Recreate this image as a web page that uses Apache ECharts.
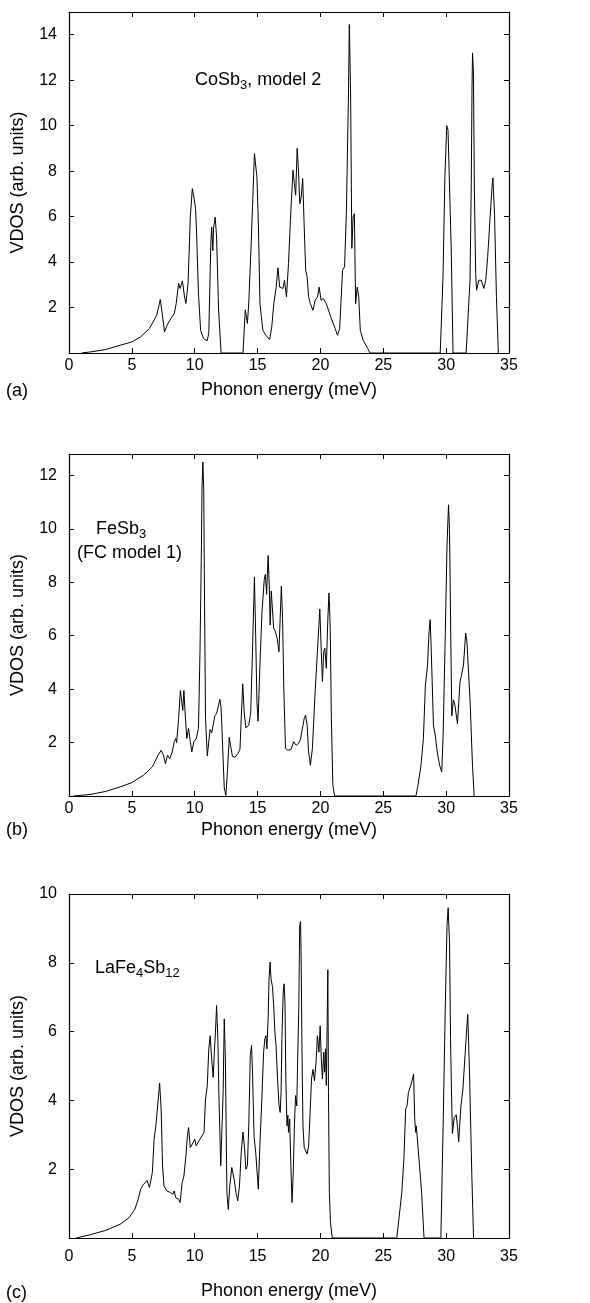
<!DOCTYPE html>
<html>
<head>
<meta charset="utf-8">
<script src="https://cdn.jsdelivr.net/npm/echarts@6/dist/echarts.min.js"></script>
<style>
html,body{margin:0;padding:0;background:#fff;}
#chart{width:590px;height:1303px;}
</style>
</head>
<body>
<div id="chart"></div>
<script>
// ---------------- DATA ----------------
const xTicks = [0, 5, 10, 15, 20, 25, 30, 35];

// Panel (a) CoSb3, model 2
const energyA = [1.0,1.74,2.9,4.07,5.0,5.7,6.4,6.98,7.26,7.4,7.6,7.8,8.02,8.37,8.53,8.72,8.84,9.02,9.19,9.3,9.47,9.65,9.81,9.93,10.07,10.16,10.3,10.47,10.7,10.98,11.12,11.28,11.35,11.44,11.5,11.63,11.74,11.9,12.1,13.84,14.02,14.19,14.3,14.49,14.75,14.95,15.07,15.19,15.42,15.66,15.96,16.13,16.29,16.48,16.62,16.76,16.9,17.02,17.14,17.3,17.46,17.65,17.82,17.93,18.03,18.15,18.24,18.36,18.47,18.59,18.71,18.83,18.94,19.06,19.2,19.41,19.58,19.77,19.9,20.05,20.23,20.47,20.82,21.17,21.36,21.53,21.76,21.92,22.07,22.23,22.3,22.4,22.5,22.6,22.7,22.8,22.93,23.05,23.17,23.4,23.76,23.94,29.53,29.75,29.9,30.05,30.15,30.3,30.4,30.55,31.59,31.9,32.0,32.06,32.1,32.17,32.25,32.35,32.42,32.6,32.8,33.0,33.15,33.3,33.5,33.65,33.72,33.85,34.0,34.15];
const vdosA = [0,0.05,0.15,0.34,0.49,0.71,1.08,1.66,2.35,1.8,0.93,1.22,1.44,1.73,2.18,3.06,2.84,3.17,2.47,2.18,3.06,5.98,7.23,6.86,6.35,5.1,2.6,1.0,0.64,0.53,0.86,4.8,5.54,4.5,5.5,5.98,5.1,1.88,0,0,1.9,1.3,2.2,4.8,8.77,7.74,5.54,2.17,1.0,0.78,0.59,1.15,2.17,2.9,3.75,2.9,2.98,2.84,3.2,2.47,3.93,6.28,8.04,7.45,6.94,9.0,8.2,6.57,6.86,7.67,5.54,3.64,3.35,2.47,2.17,1.88,2.32,2.47,2.9,2.32,2.4,2.17,1.59,1.08,0.78,1.08,3.64,3.79,6.28,11.4,14.45,11.4,4.6,5.98,6.13,2.17,2.9,2.47,1.0,0.56,0.2,0,0,3.35,7.74,10.0,9.8,6.7,4.7,0,0,3.2,7.5,11.8,13.2,12.4,7.0,3.5,2.76,3.2,3.2,2.84,3.2,4.2,6.0,7.3,7.7,6.1,2.5,0];

// Panel (b) FeSb3 (FC model 1)
const energyB = [0.35,1.74,2.9,4.07,5.0,5.93,6.63,7.09,7.33,7.51,7.67,7.84,8.02,8.21,8.37,8.49,8.56,8.72,8.86,8.95,9.05,9.14,9.23,9.37,9.51,9.65,9.77,9.93,10.12,10.3,10.42,10.53,10.58,10.65,10.72,10.77,10.86,11.0,11.22,11.35,11.45,11.6,11.75,11.88,12.0,12.1,12.22,12.35,12.48,12.6,12.75,12.85,13.0,13.2,13.45,13.6,13.7,13.82,13.93,14.07,14.3,14.45,14.6,14.75,14.85,14.95,15.04,15.18,15.34,15.44,15.53,15.62,15.72,15.84,15.93,16.0,16.09,16.19,16.28,16.42,16.56,16.7,16.8,16.89,16.99,17.08,17.22,17.41,17.65,17.88,18.07,18.24,18.4,18.54,18.71,18.82,18.94,19.06,19.2,19.36,19.58,19.76,19.95,20.07,20.16,20.26,20.35,20.47,20.59,20.68,20.78,20.87,20.99,21.13,27.6,27.76,28.0,28.19,28.35,28.52,28.64,28.73,28.82,28.99,29.13,29.29,29.48,29.65,29.76,29.93,30.07,30.19,30.25,30.3,30.38,30.45,30.58,30.7,30.9,31.1,31.38,31.55,31.65,31.9,32.1,32.23];
const vdosB = [0,0.06,0.17,0.34,0.5,0.78,1.09,1.53,1.71,1.53,1.21,1.53,1.4,1.65,2.03,2.15,2.0,2.9,3.95,3.6,3.2,3.95,3.15,2.15,2.53,2.03,1.65,2.03,2.15,2.53,5.4,9.2,11.55,12.5,11.4,7.9,2.9,1.5,2.49,2.36,2.43,3.0,3.1,3.37,3.62,3.3,1.86,0.3,0.02,0.9,2.2,1.9,1.48,1.45,1.6,1.75,2.9,4.2,3.15,2.55,2.65,3.1,5.5,8.2,6.0,3.5,2.8,4.8,6.8,6.8,8.1,8.3,7.55,9.0,7.9,6.4,7.67,7.7,6.28,6.15,5.9,5.4,6.65,7.85,6.65,4.15,1.78,1.71,1.74,2.03,1.9,1.96,2.1,2.03,2.9,3.03,2.65,1.65,1.15,1.78,3.9,5.4,7.0,5.4,4.28,5.4,5.53,4.78,6.65,7.6,6.28,2.9,0.4,0,0,0.4,1.15,2.15,4.15,4.9,6.15,6.6,5.4,2.65,2.28,1.65,1.15,0.9,2.28,6.0,9.4,10.9,10.2,8.8,5.5,3.0,3.6,3.4,2.7,4.25,4.9,6.1,5.8,3.6,1.1,0];

// Panel (c) LaFe4Sb12
const energyC = [0.58,1.74,2.9,4.07,4.77,5.23,5.51,5.7,5.93,6.21,6.4,6.51,6.63,6.77,6.91,7.05,7.21,7.33,7.44,7.56,7.79,8.07,8.26,8.37,8.49,8.72,8.84,9.0,9.14,9.3,9.42,9.51,9.65,9.81,10.0,10.12,10.35,10.58,10.74,10.86,11.0,11.12,11.23,11.35,11.47,11.56,11.65,11.74,11.84,11.93,12.07,12.16,12.26,12.35,12.44,12.56,12.67,12.79,12.95,13.14,13.28,13.42,13.56,13.7,13.84,13.95,14.07,14.19,14.3,14.42,14.52,14.6,14.72,14.85,15.06,15.18,15.34,15.48,15.58,15.67,15.74,15.84,15.91,16.0,16.07,16.14,16.19,16.28,16.38,16.47,16.59,16.71,16.8,16.87,16.94,17.04,17.11,17.18,17.25,17.34,17.41,17.46,17.55,17.65,17.74,17.84,17.93,18.02,18.12,18.19,18.28,18.35,18.42,18.47,18.54,18.61,18.71,18.82,18.94,19.06,19.18,19.29,19.41,19.53,19.65,19.76,19.88,19.98,20.07,20.16,20.26,20.33,20.4,20.47,20.54,20.59,20.64,20.71,20.8,20.94,26.07,26.24,26.47,26.64,26.78,26.89,27.0,27.18,27.32,27.41,27.5,27.58,27.62,27.69,27.88,28.05,28.24,29.58,29.76,29.93,30.07,30.16,30.27,30.35,30.42,30.5,30.64,30.8,30.9,31.0,31.17,31.33,31.5,31.64,31.72,31.86,32.04,32.18];
const vdosC = [0,0.1,0.22,0.4,0.59,0.83,1.13,1.42,1.56,1.67,1.47,1.45,1.9,2.87,3.26,3.84,4.5,3.75,2.1,1.51,1.37,1.32,1.27,1.37,1.17,1.13,1.03,1.61,1.8,2.39,2.97,3.21,2.63,2.73,2.87,2.68,2.83,2.97,3.07,4.04,4.43,5.5,5.88,5.2,4.67,5.4,5.98,6.76,5.79,4.04,2.1,2.05,4.23,6.37,5.2,1.32,0.83,1.51,2.05,1.7,1.32,1.08,1.51,2.48,3.08,2.68,2.0,2.1,3.26,5.3,5.6,4.8,2.95,2.5,1.42,2.68,4.04,5.4,5.79,5.88,5.5,6.37,7.53,8.02,7.53,7.58,7.29,6.76,5.98,5.59,4.62,3.84,3.65,4.23,5.88,7.15,7.39,6.85,4.62,3.26,3.57,3.07,3.46,2.1,1.03,1.9,3.26,4.14,3.84,5.2,6.66,9.09,9.2,8.1,5.2,3.26,2.63,2.58,2.44,2.68,3.65,4.62,4.9,4.57,5.1,5.88,5.4,6.17,5.2,4.62,5.4,4.82,5.5,4.43,6.37,7.8,4.23,1.32,0.45,0,0,0.54,1.32,2.29,3.75,3.84,4.23,4.43,4.62,4.77,3.46,3.07,3.26,2.97,2.1,1.32,0,0,3.26,6.66,9.09,9.6,8.6,5.8,4.3,3.04,3.5,3.58,3.24,2.8,3.82,4.3,5.3,6.1,6.5,4.8,1.87,0];

const yMaxes = [15, 12.8, 10];
const yLabel = 'VDOS (arb. units)';
const xLabel = 'Phonon energy (meV)';
const panelTags = ['(a)', '(b)', '(c)'];

// ---------------- LAYOUT ----------------
const FONT = '"Liberation Sans", Arial, Helvetica, sans-serif';
const grids = [
  {left: 69, top: 12, width: 440, height: 341},
  {left: 69, top: 454, width: 440, height: 342},
  {left: 69, top: 894, width: 440, height: 344}
];
const xNameGap = [28, 25, 44];
const xLabelMargin = [5, 5, 11];
const tagY = [391, 830, 1293];

const series = [[energyA, vdosA], [energyB, vdosB], [energyC, vdosC]];

const lineStyle = {color: '#000', width: 1.2};
const tickStyle = {show: true, inside: true, length: 5, lineStyle: {color: '#000', width: 1}};

const xAxis = [], yAxis = [], seriesOpt = [];
grids.forEach((g, i) => {
  xAxis.push({
    gridIndex: i, type: 'value', min: 0, max: 35, interval: 5, position: 'bottom',
    axisLine: {show: true, onZero: false, lineStyle: lineStyle},
    axisTick: tickStyle, splitLine: {show: false},
    axisLabel: {color: '#000', fontSize: 16, fontFamily: FONT, margin: xLabelMargin[i]},
    name: xLabel, nameLocation: 'middle', nameGap: xNameGap[i],
    nameTextStyle: {color: '#000', fontSize: 18, fontFamily: FONT}
  });
  xAxis.push({
    gridIndex: i, type: 'value', min: 0, max: 35, interval: 5, position: 'top',
    axisLine: {show: true, onZero: false, lineStyle: lineStyle},
    axisTick: tickStyle, splitLine: {show: false}, axisLabel: {show: false}
  });
  yAxis.push({
    gridIndex: i, type: 'value', min: 0, max: yMaxes[i], interval: 2, position: 'left',
    axisLine: {show: true, onZero: false, lineStyle: lineStyle},
    axisTick: tickStyle, splitLine: {show: false},
    axisLabel: {color: '#000', fontSize: 16, fontFamily: FONT, margin: 12,
      formatter: v => (v > 0 && Math.abs(v % 2) < 1e-9) ? String(v) : ''},
    name: yLabel, nameLocation: 'middle', nameGap: 42,
    nameTextStyle: {color: '#000', fontSize: 18, fontFamily: FONT}
  });
  yAxis.push({
    gridIndex: i, type: 'value', min: 0, max: yMaxes[i], interval: 2, position: 'right',
    axisLine: {show: true, onZero: false, lineStyle: lineStyle},
    axisTick: tickStyle, splitLine: {show: false}, axisLabel: {show: false}
  });
  const [xs, ys] = series[i];
  seriesOpt.push({
    type: 'line', xAxisIndex: 2 * i, yAxisIndex: 2 * i,
    data: xs.map((x, k) => [x, ys[k]]),
    showSymbol: false, symbol: 'none', smooth: false,
    lineStyle: {color: '#000', width: 1}, silent: true, animation: false
  });
});

// ---------------- ANNOTATIONS (text with subscripts) ----------------
const cv = document.createElement('canvas').getContext('2d');
function w(txt, size) { cv.font = size + 'px ' + FONT; return cv.measureText(txt).width; }
function subText(x, y, parts, size) {
  const sub = Math.round(size * 0.72);
  const els = [];
  let cx = x;
  parts.forEach(([t, isSub]) => {
    const fs = isSub ? sub : size;
    els.push({type: 'text', x: cx, y: isSub ? y + size * 0.32 : y, silent: true,
      style: {text: t, fontSize: fs, fontFamily: FONT, fill: '#000', textAlign: 'left', textVerticalAlign: 'middle'}});
    cx += w(t, fs);
  });
  return els;
}

const graphic = []
  .concat(subText(195, 80, [['CoSb', 0], ['3', 1], [', model 2', 0]], 18))
  .concat(subText(96, 529, [['FeSb', 0], ['3', 1]], 18))
  .concat(subText(77, 553, [['(FC model 1)', 0]], 18))
  .concat(subText(95, 968, [['LaFe', 0], ['4', 1], ['Sb', 0], ['12', 1]], 18));
panelTags.forEach((t, i) => {
  graphic.push({type: 'text', x: 6, y: tagY[i], silent: true,
    style: {text: t, fontSize: 18, fontFamily: FONT, fill: '#000', textAlign: 'left', textVerticalAlign: 'middle'}});
});

const chart = echarts.init(document.getElementById('chart'), null, {renderer: 'canvas'});
chart.setOption({
  backgroundColor: '#fff',
  animation: false,
  grid: grids.map(g => Object.assign({containLabel: false}, g)),
  xAxis: xAxis, yAxis: yAxis, series: seriesOpt,
  graphic: graphic
});
</script>
</body>
</html>
